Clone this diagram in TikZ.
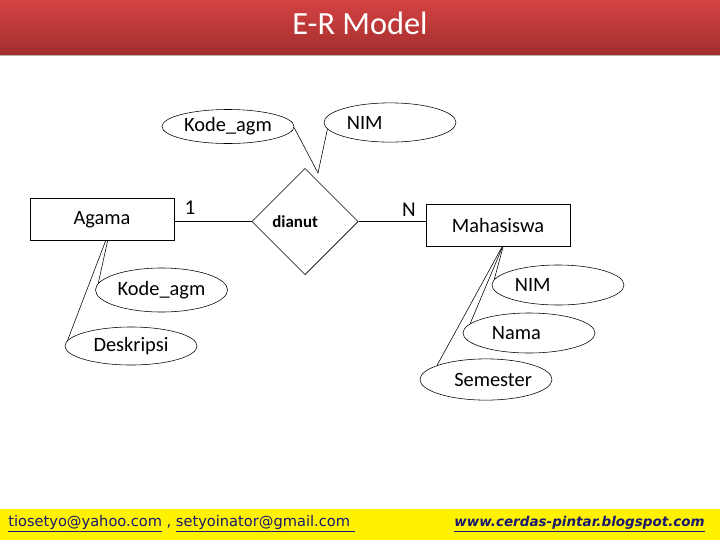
\documentclass[tikz,border=0pt]{standalone}
\usepackage{fontspec}
\setmainfont{Carlito}
\newfontfamily\footfont{DejaVu Sans}
\usepackage{tikz}
\usetikzlibrary{shapes.geometric}
\definecolor{barTop}{RGB}{212,66,66}
\definecolor{barBot}{RGB}{163,46,46}
\definecolor{footBlue}{RGB}{24,24,112}

\begin{document}
\begin{tikzpicture}[x=0.025cm,y=-0.025cm,
	entity/.style={draw,minimum width=3.6cm,minimum height=1.04cm,inner sep=0pt,font=\fontsize{14.5}{16}\selectfont},
	relation/.style={draw,diamond,aspect=1,minimum size=2.66cm,inner sep=0pt,font=\bfseries\fontsize{12}{14}\selectfont},
	attr/.style={draw,ellipse,minimum width=3.3cm,minimum height=1cm,inner sep=0pt,font=\fontsize{14.5}{16}\selectfont},
	card/.style={inner sep=0pt,font=\fontsize{15}{17}\selectfont},
	foot/.style={inner sep=0pt,text=footBlue,font=\footfont\fontsize{10.4}{12}\selectfont}]
		
		\useasboundingbox (0,0) rectangle (720,540);
		
		\shade[top color=barTop,bottom color=barBot] (0,0) rectangle (720,55);
		\draw[gray!60] (0,55.5) -- (720,55.5);
		\node[text=white,font=\fontsize{23}{27}\selectfont] (heading) at (360,23) {E-R Model};
		
		\fill[yellow] (0,509) rectangle (720,540);
		\node[foot,anchor=west] (mails) at (8,524) {\underline{tiosetyo@yahoo.com}~,~\underline{setyoinator@gmail.com~}};
		\node[foot,anchor=east,font=\footfont\bfseries\itshape\fontsize{9.6}{12}\selectfont] (site) at (705,524) {\underline{www.cerdas-pintar.blogspot.com}};
		
		
		\node[entity] (agama) at (102,219.5) {Agama};
		\node[relation] (dianut) at (305,221.5) {\hspace*{-14pt}dianut};
		\node[entity] (mhs) at (498,225) {Mahasiswa};
		
		\node[card] (one) at (190,208) {1};
		\node[card] (many) at (409,210) {N};
		
		\node[attr,minimum height=0.85cm] (kodeTop) at (228,126.5) {Kode\_agm};
		\node[attr,minimum height=0.98cm] (nimTop) at (390,122.5) {\hspace*{-36pt}NIM};
		\node[attr,minimum height=1.1cm] (kodeAgm) at (161.5,290) {Kode\_agm};
		\node[attr,minimum height=0.95cm] (deskripsi) at (131,346) {Deskripsi};
		\node[attr] (nimMhs) at (558,285) {\hspace*{-36pt}NIM};
		\node[attr] (nama) at (529,333) {\hspace*{-18pt}Nama};
		\node[attr,minimum height=1.03cm] (semester) at (486,379.5) {\hspace*{10pt}Semester};
		
		\coordinate (tip) at (318,173);
		
		
		\draw (agama.east |- dianut.west) -- (dianut.west);
		\draw (dianut.east) -- (dianut.east -| mhs.west);
		\draw (kodeTop.-1) -- (tip);
		\draw (nimTop.186) -- (tip);
		\draw (agama.-75) -- (kodeAgm.174);
		\draw (agama.-80) -- (deskripsi.175);
		\draw (mhs.-76) -- (nimMhs.175);
		\draw (mhs.-77) -- (nama.171);
		\draw (mhs.-78) -- (semester.164);
	\end{tikzpicture}
\end{document}
